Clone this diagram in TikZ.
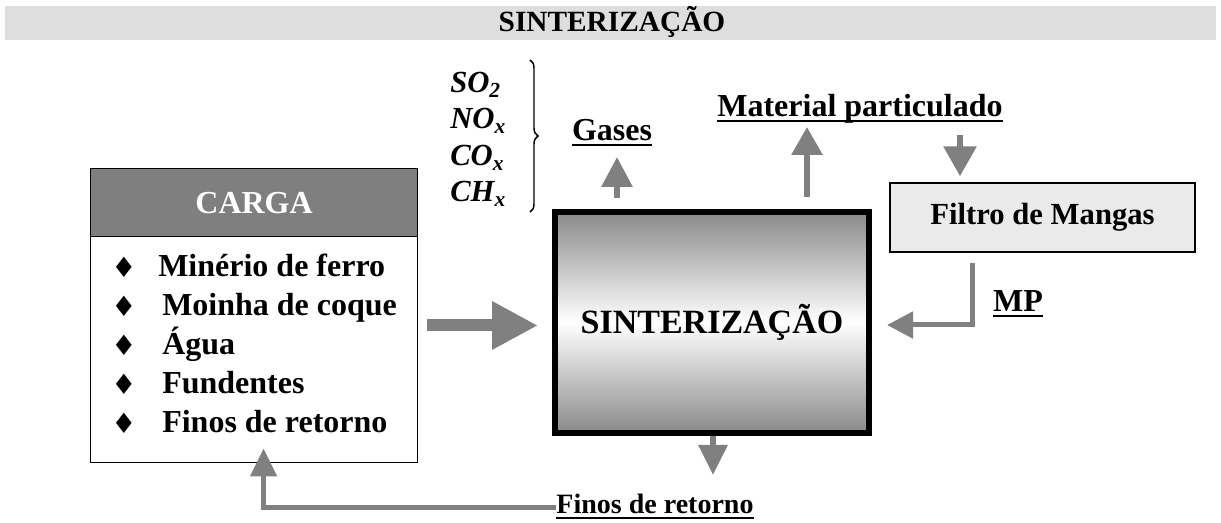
\documentclass[tikz,border=0pt]{standalone}
\usepackage{fontspec}
\setmainfont{Liberation Serif}
\newfontfamily\symfont{DejaVu Sans}
\usetikzlibrary{arrows.meta,calc,decorations.pathreplacing}
\definecolor{arrgray}{RGB}{128,128,128}
\definecolor{bargray}{RGB}{222,222,222}
\definecolor{hdgray}{RGB}{127,127,127}
\definecolor{filtgray}{RGB}{234,234,234}
\definecolor{shadegray}{RGB}{137,137,137}
\newcommand\fsz[1]{\fontsize{#1}{#1}\selectfont}
\tikzset{
  lbl/.style={anchor=base, inner sep=0pt, font=\fsz{24pt}\bfseries},
  itemtxt/.style={anchor=base west, inner sep=0pt, font=\fsz{24pt}\bfseries},
  bullet/.style={inner sep=0pt, font=\symfont\fsz{21pt}},
  formula/.style={anchor=base west, inner sep=0pt, font=\fsz{23pt}\bfseries\itshape},
  uline/.style={line width=2.2pt},
  flow/.style={draw=arrgray, line width=4.5pt},
  thinflow/.style={draw=arrgray, line width=3.75pt},
}
\begin{document}
\begin{tikzpicture}[x=0.75pt,y=-0.75pt]
\useasboundingbox (0,0) rectangle (1221,523);
% title bar
\node[fill=bargray, minimum width=908.25pt, minimum height=25.5pt, inner sep=0pt, anchor=north west] (bar) at (5,6) {};
\node[anchor=base, inner sep=0pt, font=\fsz{22pt}\bfseries] (title) at (612,32) {SINTERIZAÇÃO};
% CARGA box
\node[draw=black, line width=1.1pt, minimum width=245pt, minimum height=220.5pt, inner sep=0pt, anchor=north west] (carga) at (90,168) {};
\node[draw=black, fill=hdgray, line width=1.1pt, minimum width=245pt, minimum height=51pt, inner sep=0pt, anchor=north west, text=white, font=\fsz{24pt}\bfseries] (cargahd) at (90,168) {CARGA};
\node[itemtxt] (i1) at (158,277) {Minério de ferro};
\node[itemtxt] (i2) at (162,316) {Moinha de coque};
\node[itemtxt] (i3) at (162,355) {Água};
\node[itemtxt] (i4) at (162,394) {Fundentes};
\node[itemtxt] (i5) at (162,433) {Finos de retorno};
\node[bullet] (b1) at (124,267) {♦};
\node[bullet] (b2) at (124,306) {♦};
\node[bullet] (b3) at (124,345) {♦};
\node[bullet] (b4) at (124,384) {♦};
\node[bullet] (b5) at (124,423) {♦};
% main box
\node[draw=black, line width=4.5pt, minimum width=235.5pt, minimum height=165.75pt, inner sep=0pt,
      top color=shadegray, bottom color=shadegray, middle color=white,
      font=\fsz{25.5pt}\bfseries] (main) at (712,322.5) {SINTERIZAÇÃO};
% filter box
\node[draw=black, fill=filtgray, line width=1.1pt, minimum width=228.75pt, minimum height=51.75pt, inner sep=0pt,
      font=\fsz{23pt}\bfseries] (filtro) at (1042.5,217.5) {Filtro de Mangas};
% labels
\node[lbl] (gases) at (612,141) {Gases};
\draw[uline] ([yshift=-3pt]gases.base west) -- ([yshift=-3pt]gases.base east);
\node[lbl] (matpart) at (860,117) {Material particulado};
\draw[uline] ([yshift=-3pt]matpart.base west) -- ([yshift=-3pt]matpart.base east);
\node[lbl] (mp) at (1018,312) {MP};
\draw[uline] ([yshift=-3pt]mp.base west) -- ([yshift=-3pt]mp.base east);
\node[lbl, font=\fsz{21pt}\bfseries] (finos) at (655,514) {Finos de retorno};
\draw[uline] ([yshift=-3pt]finos.base west) -- ([yshift=-3pt]finos.base east);
% formulas
\node[formula] (so2) at (450,93) {SO\textsubscript{2}};
\node[formula] (nox) at (450,129) {NO\textsubscript{x}};
\node[formula] (cox) at (450,166) {CO\textsubscript{x}};
\node[formula] (chx) at (450,202) {CH\textsubscript{x}};
\coordinate (bracetop) at (530,60);
\coordinate (bracebot) at (530,212);
\draw[line width=1.1pt, decorate, decoration={brace, amplitude=6pt}] (bracetop) -- (bracebot);
% arrows
\draw[draw=arrgray, line width=9pt, -{Triangle[length=34.5pt, width=34pt]}]
  ($(carga.east |- main.west)+(9,3)$) -- ($(main.west)+(-14,3)$);
\draw[flow, -{Triangle[length=22.5pt, width=22.5pt]}]
  ($(main.north)+(-95,-11)$) -- ($(main.north)+(-95,-52)$);
\draw[flow, -{Triangle[length=21pt, width=22.5pt]}]
  ($(main.north)+(95,-12)$) -- ($(main.north)+(95,-82)$);
\draw[flow, -{Triangle[length=22.5pt, width=24pt]}]
  ($(filtro.north)+(-82.5,-47)$) -- ($(filtro.north)+(-82.5,-6)$);
\draw[thinflow, -{Triangle[length=19.5pt, width=19.5pt]}]
  ($(filtro.south)+(-70.5,10)$) |- ($(main.east)+(15,2.5)$);
\draw[flow, -{Triangle[length=22.5pt, width=21pt]}]
  ($(main.south)+(1,0)$) -- ($(main.south)+(1,39)$);
\draw[thinflow, -{Triangle[length=21pt, width=19.5pt]}]
  ($(finos.base west)+(0,-6)$) -| ($(carga.south)+(9.5,-15)$);
\end{tikzpicture}
\end{document}
